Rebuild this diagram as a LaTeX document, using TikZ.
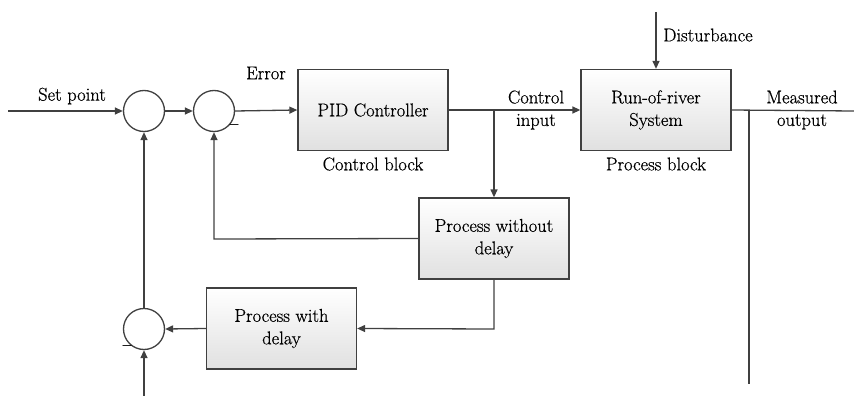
\documentclass[tikz,border=0pt]{standalone}
\usepackage{fontspec}
\newfontfamily\lmheavy{Latin Modern Roman}[FakeBold=0.6]
\usetikzlibrary{arrows.meta}
\definecolor{ln}{HTML}{404040}
\tikzset{
  blk/.style={draw=ln, line width=1.3pt, top color=white, bottom color=black!12,
    minimum width=150pt, minimum height=81pt, align=center, inner sep=2pt},
  sumc/.style={draw=ln, line width=1.3pt, circle, fill=white, minimum size=41pt, inner sep=0pt},
  con/.style={draw=ln, line width=1.3pt},
  arr/.style={con, -{Triangle[length=8pt,width=7pt]}},
  lbl/.style={text=black, inner sep=0pt, align=center},
}
\begin{document}
\begin{tikzpicture}[x=1pt, y=-1pt, font=\lmheavy\fontsize{18.5}{22.5}\selectfont]
\useasboundingbox (0,0) rectangle (854,396);

% summing junctions
\node[sumc] (s1) at (144,111) {};
\node[sumc] (s2) at (214,111) {};
\node[sumc] (s3) at (144,329) {};

% blocks
\node[blk] (pid) at (373,110) {PID Controller};
\node[blk] (plant) at (656,110) {Run-of-river\\System};
\node[blk] (pwo) at (494,238.5) {Process without\\delay};
\node[blk] (pw) at (281.5,328.5) {Process with\\delay};

% free ends and corners
\coordinate (in) at (8,111);
\coordinate (out) at (854,111);
\coordinate (br) at (494,111);
\coordinate (tap) at (749,111);
\coordinate (tapend) at (749,384);
\coordinate (dist) at (656,12);
\coordinate (fb3) at (144,396);
\coordinate (c1) at (214,239);
\coordinate (c2) at (494,329);

% forward path
\draw[arr] (in) -- (s1.west);
\draw[arr] (s1.east) -- (s2.west);
\draw[arr] (s2.east) -- (pid.west);
\draw[arr] (pid.east) -- (plant.west);
\draw[con] (plant.east) -- (out);
\draw[con] (tap) -- (tapend);
\draw[arr] (dist) -- (plant.north);

% Smith predictor branches
\draw[arr] (br) -- (pwo.north);
\draw[arr] (pwo.west) -- (c1) -- (s2.south);
\draw[arr] (pwo.south) -- (c2) -- (pw.east);
\draw[arr] (pw.west) -- (s3.east);
\draw[arr] (s3.north) -- (s1.south);
\draw[arr] (fb3) -- (s3.south);

% labels
\node[lbl] (tsp) at (72,96) {Set point};
\node[lbl] (terr) at (266,73) {Error};
\node[lbl] (tcb) at (373,164) {Control block};
\node[lbl] (tci) at (536,110) {Control\\input};
\node[lbl] (tpb) at (656,164) {Process block};
\node[lbl] (tdi) at (708,35) {Disturbance};
\node[lbl] (tmo) at (802,110) {Measured\\output};
\node[lbl] (m2) at (234,127) {\char"2013};
\node[lbl] (m3) at (127,348) {\char"2013};
\end{tikzpicture}
\end{document}
